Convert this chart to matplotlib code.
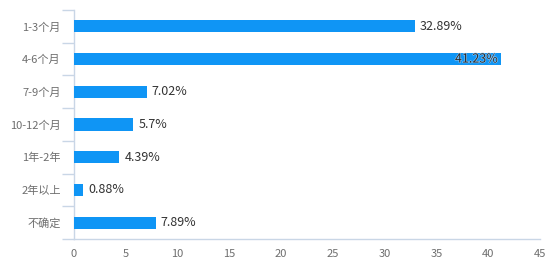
import matplotlib
matplotlib.use("Agg")
import matplotlib.pyplot as plt
import matplotlib.patheffects as pe
import numpy as np

plt.rcParams["font.family"] = ["Noto Sans CJK SC", "DejaVu Sans"]

categories = ["1-3个月", "4-6个月", "7-9个月", "10-12个月", "1年-2年", "2年以上", "不确定"]
values = [32.89, 41.23, 7.02, 5.7, 4.39, 0.88, 7.89]
labels = ["32.89%", "41.23%", "7.02%", "5.7%", "4.39%", "0.88%", "7.89%"]
xticks = [0, 5, 10, 15, 20, 25, 30, 35, 40, 45]

BAR = "#0f95f5"
AXIS = "#c9d6e6"
TICK = "#6e6e6e"

fig = plt.figure(figsize=(5.52, 2.76), dpi=100)
ax = fig.add_axes([74 / 552, 1 - 239 / 276, 466 / 552, 229 / 276])

y = np.arange(len(categories))
ax.barh(y, values, height=0.37, color=BAR, zorder=3)
ax.set_ylim(len(categories) - 0.5, -0.5)
ax.set_xlim(0, 45)

# value labels; the longest bar gets its label inside
for yi, v, lab in zip(y, values, labels):
    if v > 40:
        ax.text(v - 0.3, yi, lab, ha="right", va="center", fontsize=9,
                color="#2a2a2a", zorder=4,
                path_effects=[pe.withStroke(linewidth=0.8, foreground="#8fcbfa")])
    else:
        ax.text(v + 0.5, yi, lab, ha="left", va="center",
                fontsize=9, color="#333333", zorder=4)

ax.set_yticks(y)
ax.set_yticklabels(categories)
ax.set_yticks(np.arange(-0.5, len(categories) + 0.5, 1), minor=True)
ax.tick_params(axis="y", which="major", length=0, pad=9.5, labelsize=8, colors=TICK)
ax.tick_params(axis="y", which="minor", length=9, width=1, color=AXIS)

ax.set_xticks(xticks)
ax.tick_params(axis="x", length=0, pad=7, labelsize=8, colors=TICK)

for s in ["top", "right"]:
    ax.spines[s].set_visible(False)
ax.spines["left"].set_color(AXIS)
ax.spines["bottom"].set_color(AXIS)
ax.spines["left"].set_linewidth(1)
ax.spines["bottom"].set_linewidth(1)

fig.savefig("out.png", dpi=100)
